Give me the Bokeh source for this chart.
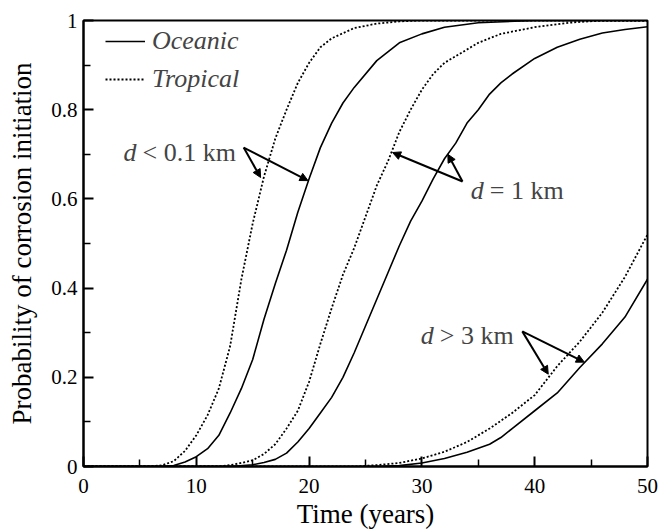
from bokeh.plotting import figure
from bokeh.models import (Range1d, FixedTicker, Legend, LegendItem, Label, Arrow, NormalHead)
from bokeh.embed import file_html
from bokeh.resources import INLINE

# ---- data ----
t_trop_01 = [0, 6, 7, 8, 9, 10, 11, 12, 13, 14, 15, 16, 17, 18, 19, 20, 21, 22, 24, 26, 28, 30, 35, 40, 45, 50]
p_trop_01 = [0, 0, 0.003, 0.012, 0.035, 0.07, 0.115, 0.175, 0.27, 0.42, 0.545, 0.65, 0.735, 0.80, 0.86, 0.905, 0.94, 0.96, 0.983, 0.993, 0.998, 1, 1, 1, 1, 1]

t_ocean_01 = [0, 7, 8, 9, 10, 11, 12, 13, 14, 15, 16, 17, 18, 19, 20, 21, 22, 23, 24, 26, 28, 30, 32, 35, 40, 45, 50]
p_ocean_01 = [0, 0, 0.002, 0.01, 0.022, 0.04, 0.07, 0.12, 0.175, 0.24, 0.33, 0.41, 0.485, 0.57, 0.645, 0.715, 0.77, 0.815, 0.85, 0.91, 0.95, 0.97, 0.985, 0.995, 1, 1, 1]

t_trop_1 = [0, 12, 13, 14, 15, 16, 17, 18, 19, 20, 21, 22, 23, 24, 25, 26, 27, 28, 29, 30, 31, 32, 33, 34, 35, 37, 40, 43, 46, 50]
p_trop_1 = [0, 0, 0.003, 0.008, 0.014, 0.028, 0.05, 0.085, 0.125, 0.19, 0.275, 0.355, 0.43, 0.49, 0.56, 0.63, 0.685, 0.75, 0.80, 0.845, 0.88, 0.905, 0.92, 0.935, 0.95, 0.97, 0.985, 0.995, 1, 1]

t_ocean_1 = [0, 13, 15, 16, 17, 18, 19, 20, 21, 22, 23, 24, 25, 26, 27, 28, 29, 30, 31, 32, 33, 34, 35, 36, 37, 38, 40, 42, 44, 46, 48, 50]
p_ocean_1 = [0, 0, 0.004, 0.009, 0.016, 0.03, 0.055, 0.085, 0.12, 0.155, 0.2, 0.255, 0.315, 0.375, 0.435, 0.495, 0.55, 0.595, 0.645, 0.69, 0.725, 0.77, 0.80, 0.835, 0.86, 0.88, 0.915, 0.94, 0.958, 0.972, 0.98, 0.986]

t_trop_3 = [0, 24, 26, 28, 30, 32, 34, 36, 38, 40, 42, 44, 46, 48, 50]
p_trop_3 = [0, 0, 0.003, 0.008, 0.018, 0.033, 0.055, 0.085, 0.12, 0.16, 0.225, 0.28, 0.345, 0.425, 0.52]

t_ocean_3 = [0, 26, 28, 30, 32, 34, 36, 37, 38, 40, 42, 44, 46, 48, 50]
p_ocean_3 = [0, 0, 0.002, 0.008, 0.018, 0.032, 0.05, 0.065, 0.085, 0.125, 0.165, 0.222, 0.275, 0.335, 0.42]

x_ticks = [0, 10, 20, 30, 40, 50]
x_minor = [5, 15, 25, 35, 45]
y_ticks = [0, 0.2, 0.4, 0.6, 0.8, 1]
y_tick_labels = ["0", "0.2", "0.4", "0.6", "0.8", "1"]
y_minor = [0.1, 0.3, 0.5, 0.7, 0.9]

series_names = ["Oceanic", "Tropical"]

# annotations: label text after italic "d", text left x / baseline y, arrow start, arrow tips
ann_rest = ["< 0.1 km", "= 1 km", "> 3 km"]
ann_x = [3.55, 34.34, 29.9]
ann_y = [0.704, 0.619, 0.294]
arrow_from = [(14.2, 0.715), (33.6, 0.639), (38.9, 0.303)]
arrow_to = [[(15.7, 0.648), (19.9, 0.641)],
            [(27.4, 0.704), (32.3, 0.700)],
            [(41.2, 0.207), (44.4, 0.234)]]

FONT = "Liberation Serif"

p = figure(width=659, height=531, output_backend="svg", toolbar_location=None,
           x_range=Range1d(0, 50), y_range=Range1d(0, 1),
           min_border_left=83, min_border_right=12, min_border_top=20, min_border_bottom=63)
p.xgrid.visible = False
p.ygrid.visible = False
p.outline_line_color = "black"
p.outline_line_width = 2
p.background_fill_color = "white"
p.border_fill_color = "white"

solid_kw = dict(line_color="black", line_width=1.6)
dot_kw = dict(line_color="black", line_width=1.8, line_dash="2 2")

r_o1 = p.line(t_ocean_01, p_ocean_01, **solid_kw)
r_t1 = p.line(t_trop_01, p_trop_01, **dot_kw)
p.line(t_ocean_1, p_ocean_1, **solid_kw)
p.line(t_trop_1, p_trop_1, **dot_kw)
p.line(t_ocean_3, p_ocean_3, **solid_kw)
p.line(t_trop_3, p_trop_3, **dot_kw)

for ax in (p.xaxis[0], p.yaxis[0]):
    ax.axis_line_width = 2
    ax.major_tick_in = 10
    ax.major_tick_out = 0
    ax.minor_tick_in = 7
    ax.minor_tick_out = 0
    ax.major_tick_line_width = 2
    ax.minor_tick_line_width = 1.5
    ax.major_label_text_font = FONT
    ax.major_label_text_font_size = "21px"
    ax.major_label_text_color = "black"
    ax.axis_label_text_font = FONT
    ax.axis_label_text_font_size = "27px"
    ax.axis_label_text_font_style = "normal"
    ax.axis_label_text_color = "black"

p.xaxis.ticker = FixedTicker(ticks=x_ticks, minor_ticks=x_minor)
p.yaxis.ticker = FixedTicker(ticks=y_ticks, minor_ticks=y_minor)
p.yaxis.major_label_overrides = {v: s for v, s in zip(y_ticks, y_tick_labels)}
p.xaxis.axis_label = "Time (years)"
p.yaxis.axis_label = "Probability of corrosion initiation"
p.xaxis.major_label_standoff = 12
p.yaxis.major_label_standoff = 6
p.xaxis.axis_label_standoff = 3
p.yaxis.axis_label_standoff = 11

legend = Legend(items=[LegendItem(label=series_names[0], renderers=[r_o1]),
                       LegendItem(label=series_names[1], renderers=[r_t1])],
                location=(22, 372), margin=0, padding=0, spacing=8,
                glyph_width=40, glyph_height=30, label_height=30, label_standoff=7,
                label_text_font=FONT, label_text_font_style="italic",
                label_text_font_size="26px", border_line_color=None,
                background_fill_alpha=0)
p.add_layout(legend)

for rest, x, y, (x0, y0), tips in zip(ann_rest, ann_x, ann_y, arrow_from, arrow_to):
    p.add_layout(Label(x=x, y=y, text="d", text_font=FONT, text_font_style="italic",
                       text_font_size="26px", text_baseline="alphabetic", text_align="left"))
    p.add_layout(Label(x=x, y=y, x_offset=19, text=rest, text_font=FONT,
                       text_font_size="26px", text_baseline="alphabetic", text_align="left"))
    for (x1, y1) in tips:
        p.add_layout(Arrow(end=NormalHead(size=8, fill_color="black", line_color="black", line_width=1),
                           x_start=x0, y_start=y0, x_end=x1, y_end=y1,
                           line_color="black", line_width=2))

open("out.html", "w").write(file_html(p, INLINE))
